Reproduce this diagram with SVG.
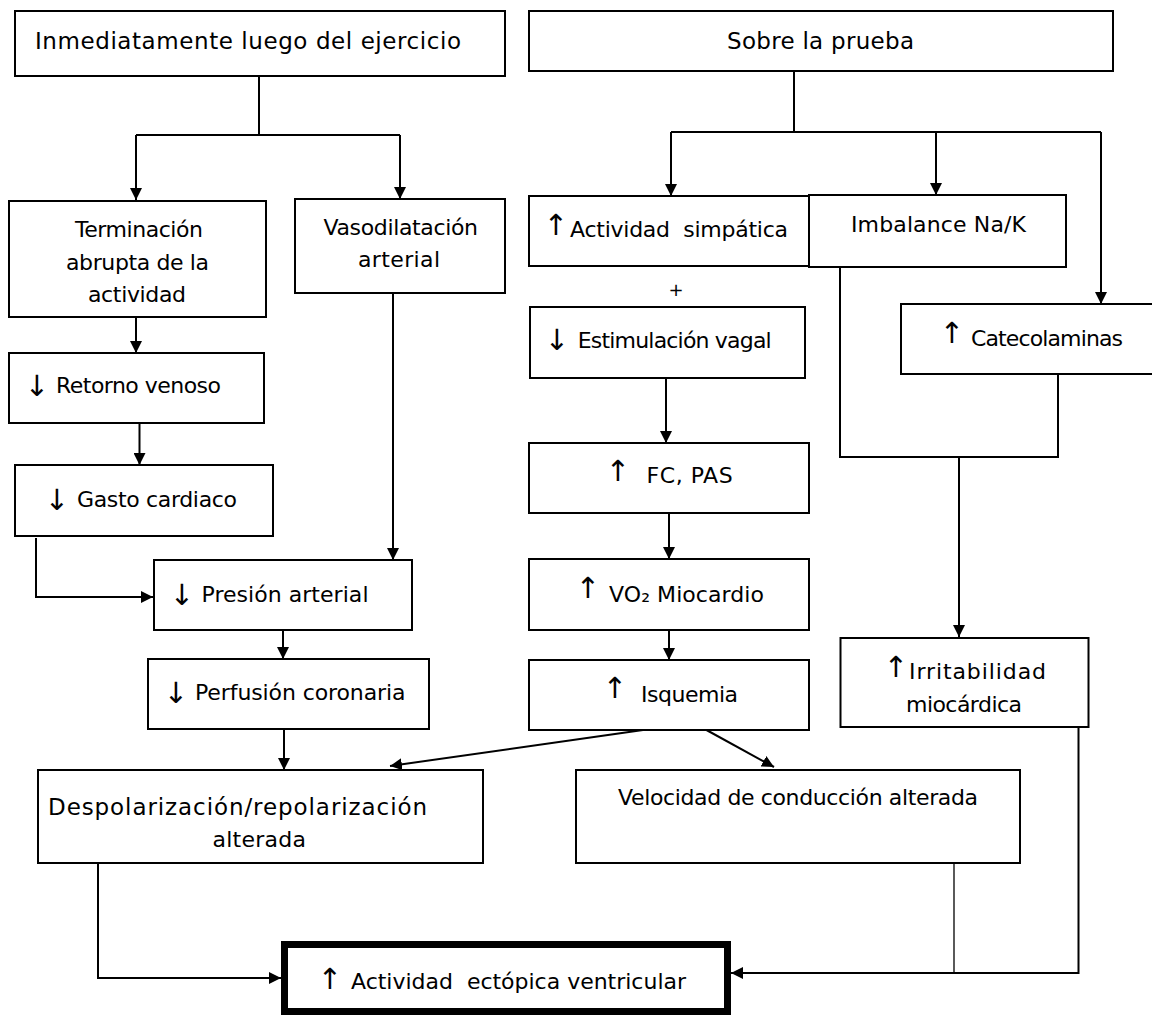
<svg xmlns="http://www.w3.org/2000/svg" width="1152" height="1015" viewBox="0 0 1152 1015">
<style>
.box{fill:#fff;stroke:#000;stroke-width:2}
.thick{fill:#fff;stroke:#000;stroke-width:7}
.c{fill:none;stroke:#000;stroke-width:2}
.ct{fill:none;stroke:#000;stroke-width:1.3}
text{font-family:"Comic Sans MS","DejaVu Sans",sans-serif;font-size:22px;fill:#000}
.t{font-size:23px}
.ar{font-family:"DejaVu Sans",sans-serif;font-size:29px;text-anchor:middle;opacity:0.99}
.plus{font-family:"DejaVu Sans",sans-serif;font-size:18px;text-anchor:middle;opacity:0.99}
</style>
<defs>
<marker id="ah" viewBox="0 0 12 12" refX="12" refY="6" markerWidth="12" markerHeight="12" markerUnits="userSpaceOnUse" orient="auto">
<path d="M0,0 L12,6 L0,12 z" fill="#000"/>
</marker>
</defs>

<g id="connectors">
<path class="c" d="M259,76 V135 M136,135 H400"/>
<path class="c" d="M136,135 V200" marker-end="url(#ah)"/>
<path class="c" d="M400,135 V199" marker-end="url(#ah)"/>
<path class="c" d="M794,71 V132 M671,132 H1101"/>
<path class="c" d="M671,132 V196" marker-end="url(#ah)"/>
<path class="c" d="M936,132 V195" marker-end="url(#ah)"/>
<path class="c" d="M1101,132 V304" marker-end="url(#ah)"/>
<path class="c" d="M136,317 V353" marker-end="url(#ah)"/>
<path class="c" d="M139.5,423 V465" marker-end="url(#ah)"/>
<path class="c" d="M36,538 V597 H153" marker-end="url(#ah)"/>
<path class="c" d="M393,293 V560" marker-end="url(#ah)"/>
<path class="c" d="M283,630 V659" marker-end="url(#ah)"/>
<path class="c" d="M284,729 V770" marker-end="url(#ah)"/>
<path class="c" d="M643,730 L390,766" marker-end="url(#ah)"/>
<path class="c" d="M701,727 L774,767" marker-end="url(#ah)"/>
<path class="c" d="M666,378 V443" marker-end="url(#ah)"/>
<path class="c" d="M669,513 V559" marker-end="url(#ah)"/>
<path class="c" d="M669,630 V660" marker-end="url(#ah)"/>
<path class="c" d="M840,267 V457 H1058 V374"/>
<path class="c" d="M959,457 V637" marker-end="url(#ah)"/>
<path class="c" d="M98,863 V978 H281" marker-end="url(#ah)"/>
<path class="ct" d="M954,863 V973"/>
<path class="c" d="M1078.5,727 V973 H731" marker-end="url(#ah)"/>
</g>

<g id="n1"><rect class="box" x="15" y="11" width="490" height="65"/>
<text class="t" x="35" y="49" textLength="426">Inmediatamente luego del ejercicio</text></g>
<g id="n2"><rect class="box" x="529" y="11" width="584" height="60"/>
<text class="t" x="727" y="49" textLength="187">Sobre la prueba</text></g>
<g id="n3"><rect class="box" x="9" y="201" width="257" height="116"/>
<text x="75" y="237" textLength="128">Terminación</text>
<text x="66" y="270" textLength="143">abrupta de la</text>
<text x="88" y="302" textLength="98">actividad</text></g>
<g id="n4"><rect class="box" x="295" y="199" width="210" height="94"/>
<text x="323.5" y="235" textLength="154.5">Vasodilatación</text>
<text x="358" y="267" textLength="82">arterial</text></g>
<g id="n5"><rect class="box" x="9" y="353" width="255" height="70"/>
<text><tspan class="ar" x="37" y="396">↓</tspan><tspan x="56" y="393" textLength="165">Retorno venoso</tspan></text></g>
<g id="n6"><rect class="box" x="15" y="465" width="258" height="71"/>
<text><tspan class="ar" x="57" y="510">↓</tspan><tspan x="77" y="507" textLength="160">Gasto cardiaco</tspan></text></g>
<g id="n7"><rect class="box" x="154" y="560" width="258" height="70"/>
<text><tspan class="ar" x="182" y="605">↓</tspan><tspan x="201.5" y="602" textLength="167">Presión arterial</tspan></text></g>
<g id="n8"><rect class="box" x="148" y="659" width="281" height="70"/>
<text><tspan class="ar" x="176" y="703">↓</tspan><tspan x="195" y="700" textLength="210.5">Perfusión coronaria</tspan></text></g>
<g id="n9"><rect class="box" x="38" y="770" width="445" height="93"/>
<text x="48" y="815" textLength="379" style="font-size:23px">Despolarización/repolarización</text>
<text x="212.5" y="847" textLength="93.5">alterada</text></g>
<g id="n10"><rect class="box" x="576" y="770" width="444" height="93"/>
<text x="618" y="805" textLength="360">Velocidad de conducción alterada</text></g>
<g id="n11"><rect class="thick" x="284.5" y="944.5" width="443" height="67"/>
<text xml:space="preserve"><tspan class="ar" x="330" y="989">↑</tspan><tspan x="351" y="989" textLength="335">Actividad  ectópica ventricular</tspan></text></g>
<g id="n12"><rect class="box" x="529" y="196" width="280" height="70"/>
<text xml:space="preserve"><tspan class="ar" x="556" y="235">↑</tspan><tspan x="570" y="237" textLength="218">Actividad  simpática</tspan></text></g>
<g id="n13"><rect class="box" x="809" y="195" width="257" height="72"/>
<text x="851" y="232" textLength="175">Imbalance Na/K</text></g>
<text id="plus" class="plus" x="676" y="296">+</text>
<g id="n14"><rect class="box" x="530" y="307" width="275" height="71"/>
<text><tspan class="ar" x="557" y="350">↓</tspan><tspan x="577.7" y="348" textLength="194">Estimulación vagal</tspan></text></g>
<g id="n15"><rect class="box" x="529" y="443" width="280" height="70"/>
<text><tspan class="ar" x="618" y="481">↑</tspan><tspan x="646.6" y="483" textLength="86">FC, PAS</tspan></text></g>
<g id="n16"><rect class="box" x="529" y="559" width="280" height="71"/>
<text><tspan class="ar" x="588" y="598">↑</tspan><tspan x="609" y="602" textLength="155">VO₂ Miocardio</tspan></text></g>
<g id="n17"><rect class="box" x="529" y="660" width="280" height="70"/>
<text><tspan class="ar" x="615" y="698">↑</tspan><tspan x="641" y="702" textLength="97">Isquemia</tspan></text></g>
<g id="n18"><rect class="box" x="901" y="304" width="262" height="70"/>
<text><tspan class="ar" x="952" y="343">↑</tspan><tspan x="971" y="346" textLength="152">Catecolaminas</tspan></text></g>
<g id="n19"><rect class="box" x="840.5" y="638" width="248" height="89"/>
<text><tspan class="ar" x="896" y="677">↑</tspan><tspan x="909" y="679" textLength="137">Irritabilidad</tspan></text>
<text x="906" y="712" textLength="116">miocárdica</text></g>
</svg>
